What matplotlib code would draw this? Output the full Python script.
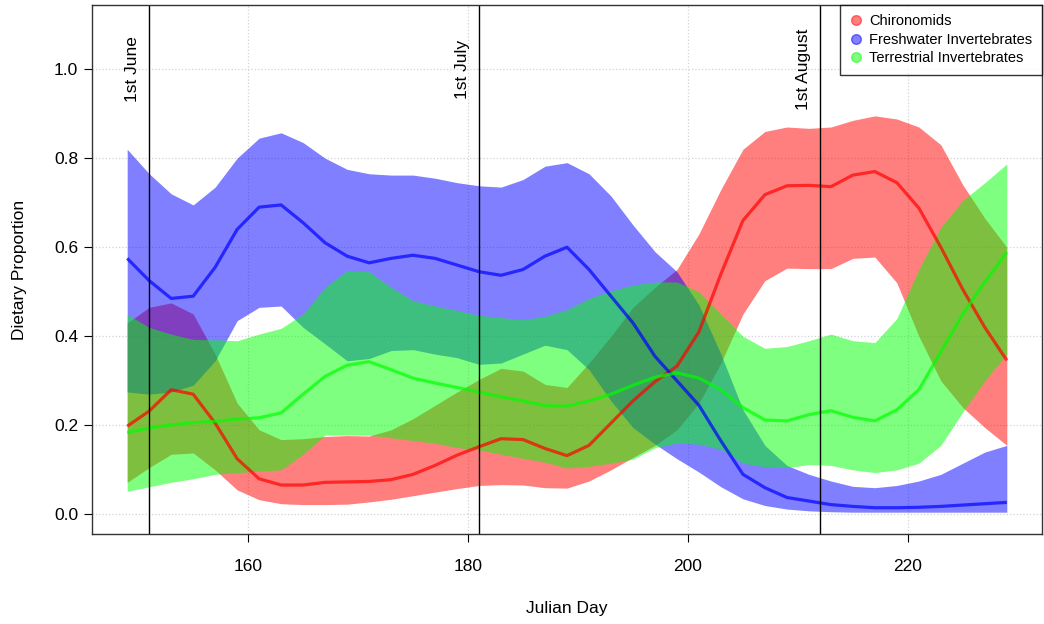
import numpy as np
import matplotlib
matplotlib.use("Agg")
import matplotlib.pyplot as plt
from matplotlib.lines import Line2D

plt.rcParams['font.family'] = ['Liberation Sans', 'DejaVu Sans']

# Julian day sampled every second day
days = np.arange(149, 231, 2)

# Chironomids: mean and credible band
chir_mean = [0.198, 0.232, 0.28, 0.27, 0.205, 0.125, 0.08, 0.066, 0.066, 0.072,
             0.073, 0.074, 0.078, 0.09, 0.11, 0.133, 0.152, 0.17, 0.168, 0.148,
             0.132, 0.155, 0.205, 0.255, 0.298, 0.333, 0.41, 0.54, 0.66, 0.718,
             0.738, 0.739, 0.736, 0.762, 0.77, 0.745, 0.688, 0.6, 0.505, 0.42, 0.346]
chir_upper = [0.43, 0.465, 0.475, 0.45, 0.36, 0.25, 0.19, 0.168, 0.17, 0.175,
              0.177, 0.176, 0.19, 0.215, 0.245, 0.275, 0.303, 0.328, 0.322, 0.292,
              0.285, 0.34, 0.40, 0.465, 0.51, 0.55, 0.63, 0.73, 0.82, 0.86,
              0.87, 0.867, 0.87, 0.885, 0.895, 0.888, 0.87, 0.83, 0.74, 0.665, 0.60]
chir_lower = [0.072, 0.105, 0.135, 0.138, 0.10, 0.055, 0.033, 0.024, 0.022, 0.022,
              0.023, 0.028, 0.034, 0.042, 0.05, 0.058, 0.065, 0.067, 0.066, 0.06,
              0.059, 0.075, 0.10, 0.128, 0.155, 0.19, 0.25, 0.34, 0.45, 0.525,
              0.553, 0.552, 0.552, 0.575, 0.578, 0.52, 0.40, 0.30, 0.24, 0.195, 0.155]

# Freshwater invertebrates
fresh_mean = [0.575, 0.525, 0.485, 0.49, 0.555, 0.64, 0.69, 0.695, 0.655, 0.61,
              0.58, 0.565, 0.575, 0.582, 0.575, 0.56, 0.545, 0.537, 0.55, 0.58,
              0.60, 0.55, 0.49, 0.43, 0.355, 0.30, 0.245, 0.165, 0.09, 0.06,
              0.038, 0.03, 0.022, 0.018, 0.015, 0.015, 0.016, 0.018, 0.021, 0.024, 0.027]
fresh_upper = [0.82, 0.765, 0.72, 0.695, 0.735, 0.80, 0.845, 0.857, 0.835, 0.80,
               0.775, 0.765, 0.762, 0.762, 0.755, 0.745, 0.738, 0.735, 0.752, 0.782,
               0.79, 0.765, 0.715, 0.65, 0.59, 0.545, 0.47, 0.36, 0.235, 0.155,
               0.11, 0.09, 0.075, 0.063, 0.06, 0.065, 0.075, 0.09, 0.115, 0.14, 0.155]
fresh_lower = [0.275, 0.27, 0.275, 0.29, 0.345, 0.435, 0.465, 0.468, 0.42, 0.383,
               0.345, 0.35, 0.368, 0.37, 0.36, 0.352, 0.337, 0.34, 0.36, 0.38,
               0.37, 0.325, 0.255, 0.195, 0.158, 0.125, 0.095, 0.062, 0.035, 0.02,
               0.012, 0.008, 0.006, 0.005, 0.005, 0.005, 0.005, 0.005, 0.005, 0.005, 0.005]

# Terrestrial invertebrates
terr_mean = [0.184, 0.194, 0.201, 0.206, 0.209, 0.214, 0.217, 0.228, 0.27, 0.31,
             0.335, 0.343, 0.325, 0.306, 0.295, 0.285, 0.275, 0.264, 0.255, 0.244,
             0.243, 0.255, 0.27, 0.29, 0.308, 0.318, 0.306, 0.28, 0.24, 0.212,
             0.21, 0.224, 0.233, 0.218, 0.21, 0.235, 0.28, 0.365, 0.45, 0.522, 0.589]
terr_upper = [0.449, 0.42, 0.405, 0.393, 0.392, 0.39, 0.405, 0.418, 0.45, 0.51,
              0.548, 0.545, 0.51, 0.48, 0.468, 0.458, 0.447, 0.442, 0.437, 0.445,
              0.46, 0.485, 0.502, 0.515, 0.522, 0.522, 0.50, 0.45, 0.40, 0.373,
              0.377, 0.39, 0.405, 0.39, 0.386, 0.44, 0.55, 0.645, 0.705, 0.745, 0.787]
terr_lower = [0.052, 0.062, 0.072, 0.08, 0.09, 0.094, 0.097, 0.10, 0.135, 0.178,
              0.178, 0.178, 0.172, 0.166, 0.16, 0.15, 0.145, 0.135, 0.126, 0.117,
              0.104, 0.108, 0.115, 0.124, 0.15, 0.16, 0.158, 0.146, 0.115, 0.107,
              0.105, 0.112, 0.11, 0.1, 0.094, 0.10, 0.115, 0.155, 0.23, 0.30, 0.36]

labels = ["Chironomids", "Freshwater Invertebrates", "Terrestrial Invertebrates"]
colors = ["#FF0000", "#0000FF", "#00FF00"]

month_days = [151, 181, 212]
month_labels = ["1st June", "1st July", "1st August"]

fig = plt.figure(figsize=(10.44, 6.24), dpi=100)
ax = fig.add_axes([92 / 1044, 90 / 624, 950 / 1044, 529 / 624])

# dotted grid underneath
for gx in [160, 180, 200, 220]:
    ax.axvline(gx, color="#d3d3d3", ls=":", lw=0.9, zorder=0)
for gy in np.arange(0, 1.01, 0.2):
    ax.axhline(gy, color="#d3d3d3", ls=":", lw=0.9, zorder=0)

series = [(chir_mean, chir_lower, chir_upper),
          (fresh_mean, fresh_lower, fresh_upper),
          (terr_mean, terr_lower, terr_upper)]
for (m, lo, hi), c in zip(series, colors):
    ax.fill_between(days, lo, hi, color=c, alpha=0.5, linewidth=0)
    ax.plot(days, m, color=c, alpha=0.7, lw=2.3, solid_capstyle="butt")

for d, lab in zip(month_days, month_labels):
    ax.axvline(d, color="black", lw=1)
    ax.text(d - 1.5, 1.0, lab, rotation=90, ha="center", va="center", fontsize=12.5)

ax.set_xlim(145.8, 232.2)
ax.set_ylim(-0.044, 1.144)
ax.set_xticks([160, 180, 200, 220])
ax.set_yticks([0.0, 0.2, 0.4, 0.6, 0.8, 1.0])
ax.set_yticklabels(["0.0", "0.2", "0.4", "0.6", "0.8", "1.0"])
ax.tick_params(direction="out", length=6, width=0.8, labelsize=12.5)
ax.tick_params(axis="x", pad=12)
ax.tick_params(axis="y", pad=4)
ax.set_xlabel("Julian Day", fontsize=12.5, va="center")
ax.set_ylabel("Dietary Proportion", fontsize=12.5, va="center")
ax.xaxis.set_label_coords(0.5, (534 - 608) / 529)
ax.yaxis.set_label_coords((20 - 92) / 950, 0.5)
for s in ax.spines.values():
    s.set_linewidth(1)
    s.set_color("#333333")

handles = [Line2D([], [], marker="o", ls="", color=c, alpha=0.5, markersize=7)
           for c in colors]
leg = ax.legend(handles, labels, loc="upper right", fontsize=10.5, frameon=True,
                fancybox=False, borderaxespad=0, handletextpad=0.4,
                labelspacing=0.3, handlelength=1.0, borderpad=0.65)
leg.get_frame().set_edgecolor("black")
leg.get_frame().set_linewidth(1)

fig.savefig("out.png", dpi=100)
